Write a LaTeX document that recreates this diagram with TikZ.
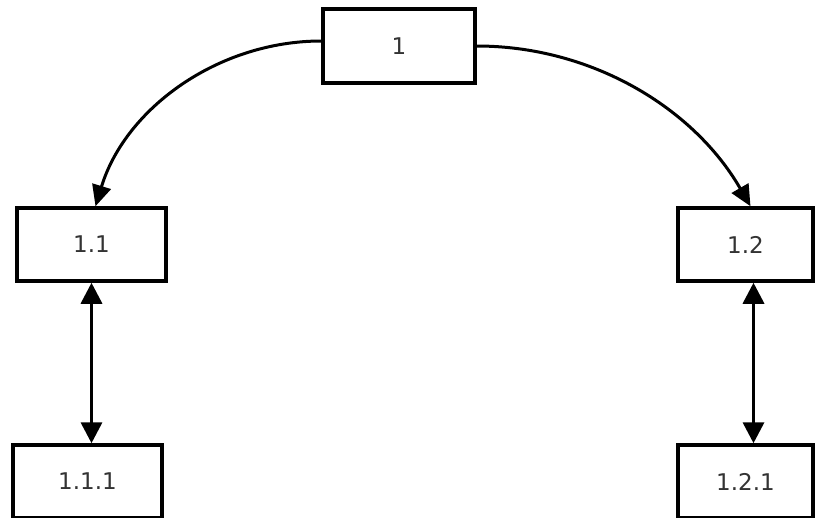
\documentclass[tikz,border=0pt]{standalone}
\usepackage{fontspec}
\setmainfont{DejaVu Sans}
\usetikzlibrary{arrows.meta}

\tikzset{
  box/.style={draw,line width=3.5pt,inner sep=0pt,minimum height=73pt,
    text=black!80,font=\fontsize{23}{27}\selectfont},
  link/.style={line width=3pt,-{Triangle[length=21pt,width=19pt]}},
  pair/.style={line width=3.5pt,{Triangle[length=21pt,width=21pt]}-{Triangle[length=21pt,width=21pt]}}
}

\begin{document}
\begin{tikzpicture}[x=1pt,y=-1pt]
  \useasboundingbox[fill=white] (0,0) rectangle (817,517);

  \node[box,minimum width=152pt,minimum height=74pt] (n1) at (399,46) {1};

  \node[box,minimum width=149pt] (n11) at (91.5,244.5) {1.1};
  \node[box,minimum width=135pt] (n12) at (745.5,244.5) {1.2};

  \node[box,minimum width=149pt] (n111) at (87.5,481.5) {1.1.1};
  \node[box,minimum width=135pt] (n121) at (745.5,481.5) {1.2.1};

  \draw[link] ([yshift=5pt]n1.west) to[out=180,in=73,looseness=0.94] ([xshift=4pt]n11.north);
  \draw[link] (n1.east) to[out=0,in=120,looseness=0.92] ([xshift=5pt]n12.north);

  \draw[pair] (n11.south) -- (n11.south |- n111.north);
  \draw[pair] ([xshift=8pt]n12.south) -- ([xshift=8pt]n12.south |- n121.north);
\end{tikzpicture}
\end{document}
